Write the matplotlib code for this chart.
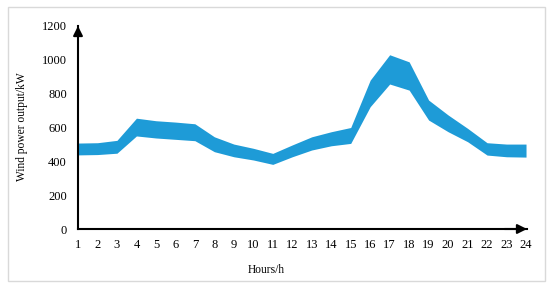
import matplotlib
matplotlib.use("Agg")
import matplotlib.pyplot as plt
from matplotlib.patches import Rectangle

hours = list(range(1, 25))
upper = [508, 510, 524, 655, 640, 632, 622, 545, 502, 477, 447, 497, 545, 575, 600,
         880, 1030, 988, 762, 674, 595, 510, 502, 502]
lower = [438, 440, 448, 550, 538, 530, 522, 457, 427, 408, 382, 427, 467, 492, 506,
         723, 857, 821, 644, 575, 516, 437, 427, 425]
yticks = [0, 200, 400, 600, 800, 1000, 1200]

plt.rcParams['font.family'] = ['Liberation Serif', 'DejaVu Serif']

fig = plt.figure(figsize=(5.5, 2.91), dpi=100)
fig.patches.append(Rectangle((8/550, 1-281/291), 537/550, 274/291, transform=fig.transFigure,
                             fill=False, edgecolor='#d9d9d9', linewidth=1.0))
ax = fig.add_axes([78/550, (291-229)/291, (527-78)/550, 203/291])
ax.fill_between(hours, lower, upper, color='#1E9BD7', linewidth=0)
ax.set_xlim(1, 24.05)
ax.set_ylim(0, 1200)
ax.set_xticks(hours)
ax.set_xticklabels([str(h) for h in hours])
ax.set_yticks(yticks)
ax.tick_params(axis='both', length=0, labelsize=9)
ax.tick_params(axis='y', pad=8)
ax.tick_params(axis='x', pad=7)
for s in ['top', 'right']:
    ax.spines[s].set_visible(False)
for s in ['left', 'bottom']:
    ax.spines[s].set_linewidth(1.5)
    ax.spines[s].set_color('black')
ax.annotate('', xy=(1.0, 0), xycoords='axes fraction', xytext=(0.95, 0),
            arrowprops=dict(arrowstyle='-|>', color='black', lw=1.5, mutation_scale=14,
                            shrinkA=0, shrinkB=0), annotation_clip=False)
ax.annotate('', xy=(0, 1.0), xycoords='axes fraction', xytext=(0, 0.95),
            arrowprops=dict(arrowstyle='-|>', color='black', lw=1.5, mutation_scale=14,
                            shrinkA=0, shrinkB=0), annotation_clip=False)
ax.set_ylabel('Wind power output/kW', fontsize=8.3)
ax.set_xlabel('Hours/h', fontsize=8.3)
ax.yaxis.set_label_coords((22-78)/449, (229-127)/203)
ax.xaxis.set_label_coords((266-78)/449, (229-270)/203)
ax.xaxis.label.set_verticalalignment('center')
ax.yaxis.label.set_verticalalignment('center')
fig.savefig('out.png', dpi=100)
